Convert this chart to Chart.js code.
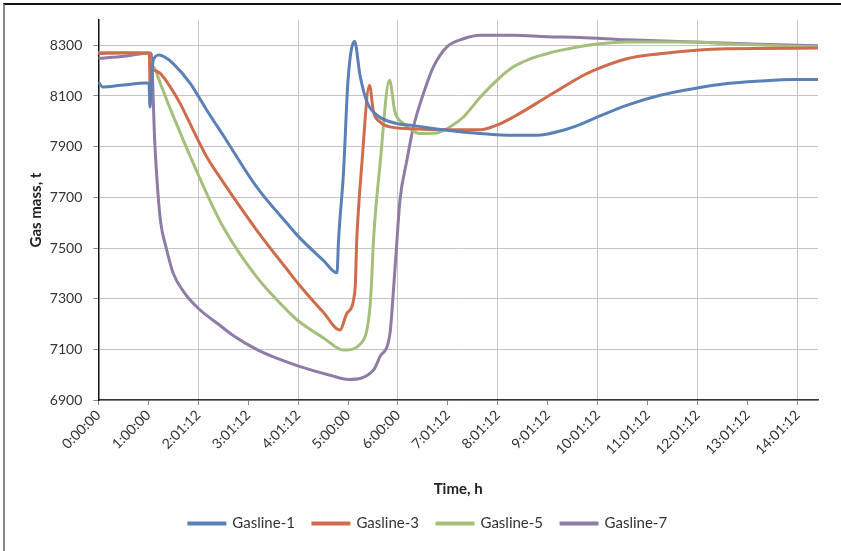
<!DOCTYPE html>
<html>
<head>
<meta charset="utf-8">
<script src="https://cdn.jsdelivr.net/npm/chart.js@4/dist/chart.umd.min.js"></script>
<style>
  html, body { margin: 0; padding: 0; background: #fff; }
  #wrap { position: relative; width: 841px; height: 551px; }
  #frame {
    position: absolute; left: 3px; top: 3px; width: 838px; height: 546px;
    border-top: 2px solid #111; border-left: 2px solid #8a8a8a; border-bottom: 1px solid #bdbdbd;
    pointer-events: none;
  }
</style>
</head>
<body>
<div id="wrap">
  <canvas id="gasChart" width="841" height="551"></canvas>
  <div id="frame"></div>
</div>
<script>
// Time axis (hours) and labels
const xLabels = ['0:00:00', '1:00:00', '2:01:12', '3:01:12', '4:01:12', '5:00:00', '6:00:00',
                 '7:01:12', '8:01:12', '9:01:12', '10:01:12', '11:01:12', '12:01:12', '13:01:12', '14:01:12'];
const yTicks = [6900, 7100, 7300, 7500, 7700, 7900, 8100, 8300];

// Gasline-1
const g1Hours = [0, 0.09, 0.44, 0.97, 1.015, 1.035, 1.055, 1.10, 1.22, 1.32, 1.50, 1.84, 2.0, 2.17, 2.5, 3.17,
                 3.84, 4.0, 4.51, 4.78, 4.81, 4.91, 5.0, 5.13, 5.24, 5.38, 5.58, 5.98, 6.24, 6.98, 7.65, 8.31, 8.78,
                 9.31, 9.65, 9.91, 10.59, 11.25, 11.91, 12.59, 13.25, 13.91, 14.41];
const g1Mass = [8155, 8136, 8142, 8151, 8150, 8056, 8122, 8241, 8262, 8255, 8228, 8150, 8100, 8045, 7945, 7741,
                7583, 7547, 7450, 7402, 7531, 7800, 8162, 8316, 8182, 8076, 8024, 7991, 7985, 7965, 7952, 7945, 7945,
                7965, 7988, 8010, 8064, 8103, 8129, 8149, 8159, 8165, 8165];

// Gasline-3
const g3Hours = [0, 0.5, 1.02, 1.04, 1.08, 1.14, 1.24, 1.44, 1.64, 1.90, 2.0, 2.17, 2.5, 3.17, 3.84, 4.0, 4.51,
                 4.84, 4.98, 5.14, 5.175, 5.275, 5.43, 5.51, 5.64, 5.84, 6.24, 6.98, 7.65, 7.98, 8.31, 8.98,
                 9.25, 9.65, 9.91, 10.58, 11.25, 11.91, 12.59, 14.41];
const g3Mass = [8268, 8270, 8270, 8110, 8205, 8200, 8189, 8136, 8070, 7965, 7925, 7860, 7760, 7571, 7400, 7360, 7245,
                7176, 7243, 7334, 7531, 7827, 8142, 8037, 7998, 7978, 7971, 7967, 7967, 7985, 8017, 8096,
                8128, 8175, 8200, 8247, 8267, 8280, 8287, 8289];

// Gasline-5
const g5Hours = [0, 0.5, 1.02, 1.05, 1.10, 1.24, 1.44, 1.64, 1.84, 2.0, 2.17, 2.5, 3.17, 3.84, 4.0, 4.51, 4.91,
                 5.31, 5.44, 5.48, 5.51, 5.64, 5.83, 5.94, 6.11, 6.24, 6.44, 6.78, 6.98, 7.31, 7.65, 7.98,
                 8.31, 8.6, 8.98, 9.25, 9.91, 10.58, 11.91, 12.59, 14.41];
const g5Mass = [8272, 8272, 8270, 8200, 8215, 8150, 8050, 7955, 7862, 7790, 7715, 7583, 7386, 7242, 7213, 7145, 7097,
                7137, 7268, 7400, 7531, 7827, 8162, 8037, 7991, 7971, 7952, 7954, 7971, 8017, 8096, 8162,
                8215, 8243, 8267, 8280, 8303, 8313, 8313, 8306, 8294];

// Gasline-7
const g7Hours = [0, 0.52, 1.04, 1.06, 1.13, 1.19, 1.25, 1.36, 1.50, 1.70, 2.0, 2.4, 2.7, 3.17, 3.57, 4.04, 4.64,
                 5.01, 5.51, 5.64, 5.84, 5.91, 5.98, 6.04, 6.18, 6.31, 6.51, 6.71, 6.98, 7.31, 7.65, 8.31,
                 8.98, 9.65, 10.58, 11.91, 13.25, 14.41];
const g7Mass = [8248, 8257, 8270, 8265, 7918, 7728, 7600, 7500, 7400, 7330, 7262, 7200, 7155, 7100, 7065, 7032, 6998,
                6981, 7018, 7071, 7163, 7334, 7531, 7689, 7847, 7978, 8110, 8215, 8294, 8326, 8340, 8340,
                8334, 8331, 8322, 8313, 8304, 8298];

const toPoints = (hours, mass) => hours.map((h, i) => ({ x: h, y: mass[i] }));

const seriesDefs = [
    { label: 'Gasline-1', color: '#5a80b8', hours: g1Hours, mass: g1Mass },
    { label: 'Gasline-3', color: '#cf6c4c', hours: g3Hours, mass: g3Mass },
    { label: 'Gasline-5', color: '#a5bf7b', hours: g5Hours, mass: g5Mass },
    { label: 'Gasline-7', color: '#8e7ba6', hours: g7Hours, mass: g7Mass }
];

const PAD_LEFT = 38;
const PAD_BOTTOM = 10;
const PLOT_LEFT = 98.3;
const PLOT_BOTTOM = 400;

const ctx = document.getElementById('gasChart');
new Chart(ctx, {
    type: 'line',
    data: {
        datasets: seriesDefs.map(s => ({
            label: s.label,
            data: toPoints(s.hours, s.mass),
            borderColor: s.color,
            backgroundColor: s.color,
            borderWidth: 3,
            pointRadius: 0,
            cubicInterpolationMode: 'monotone',
            fill: false
        }))
    },
    options: {
        responsive: false,
        animation: false,
        layout: { padding: { top: 20, right: 23, left: PAD_LEFT, bottom: PAD_BOTTOM } },
        scales: {
            x: {
                type: 'linear',
                min: 0,
                max: 14.41,
                afterBuildTicks: scale => {
                    scale.ticks = xLabels.map((_, i) => ({ value: i }));
                },
                afterFit: scale => {
                    const legendH = scale.chart.legend ? scale.chart.legend.height : 0;
                    scale.height = scale.chart.height - PLOT_BOTTOM - legendH - PAD_BOTTOM;
                },
                ticks: {
                    autoSkip: false,
                    maxRotation: 45,
                    minRotation: 45,
                    padding: 2,
                    color: '#333',
                    font: { family: 'Lato', size: 14 },
                    callback: (value) => xLabels[Math.round(value)]
                },
                grid: {
                    color: c => (c.tick && c.tick.value % 2 === 0 && c.tick.value > 0) ? '#c4c4c4' : 'rgba(0,0,0,0)',
                    tickColor: '#8a8a8a',
                    tickLength: 5,
                    lineWidth: 1
                },
                border: { color: '#333', width: 1.5 },
                title: {
                    display: true,
                    text: 'Time, h',
                    color: '#222',
                    font: { family: 'Lato', size: 15, weight: 'bold' },
                    padding: { top: 4, bottom: 0 }
                }
            },
            y: {
                min: 6900,
                max: 8400,
                afterBuildTicks: scale => {
                    scale.ticks = yTicks.map(v => ({ value: v }));
                },
                afterFit: scale => {
                    scale.width = PLOT_LEFT - PAD_LEFT;
                },
                ticks: {
                    padding: 11,
                    color: '#333',
                    font: { family: 'Lato', size: 14 },
                    callback: (value) => String(value)
                },
                grid: {
                    color: '#c4c4c4',
                    tickColor: '#8a8a8a',
                    tickLength: 5,
                    lineWidth: 1
                },
                border: { color: '#111', width: 1.5 },
                title: {
                    display: true,
                    text: 'Gas mass, t',
                    color: '#222',
                    font: { family: 'Lato', size: 15, weight: 'bold' },
                    padding: { top: -11, bottom: 0 }
                }
            }
        },
        plugins: {
            legend: {
                position: 'bottom',
                labels: {
                    boxWidth: 36,
                    boxHeight: 1,
                    padding: 18,
                    color: '#333',
                    font: { family: 'Lato', size: 15 }
                }
            },
            tooltip: { enabled: false }
        }
    }
});
</script>
</body>
</html>
